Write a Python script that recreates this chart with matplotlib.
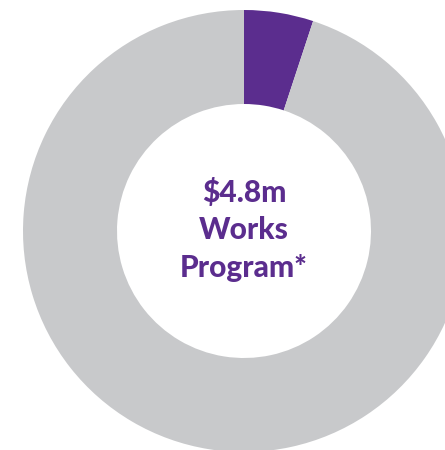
import matplotlib.pyplot as plt

# --- Data ---
labels = ["Works Program", "Other"]
values = [4.8, 90.0]
colors = ["#5B2D8E", "#C8C9CB"]
centre_lines = [r"\$4.8m", "Works", "Program*"]

# --- Figure in pixel units ---
fig = plt.figure(figsize=(4.45, 4.5), dpi=100)
ax = fig.add_axes([0, 0, 1, 1])

ax.pie(
    values,
    colors=colors,
    startangle=90,
    counterclock=False,
    radius=221,
    center=(244, 219),
    wedgeprops=dict(width=94, edgecolor="none"),
    frame=True,
)
ax.set_xlim(0, 445)
ax.set_ylim(0, 450)
ax.set_aspect("equal")
ax.axis("off")

# --- Centre text ---
for i, line in enumerate(centre_lines):
    ax.text(244, 450 - 192 - i * 38, line, ha="center", va="center",
            fontsize=21.5, fontweight="black", color="#5B2D8E", family="Lato")

fig.savefig("out.png", dpi=100)
